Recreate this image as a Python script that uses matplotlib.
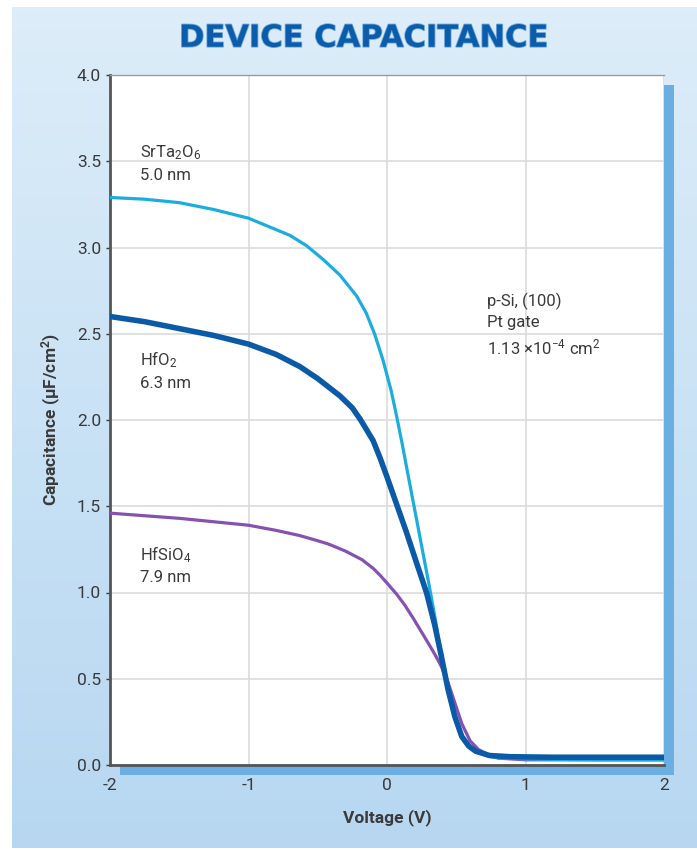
import numpy as np
import matplotlib
matplotlib.use('Agg')
import matplotlib.pyplot as plt
import matplotlib.patheffects as pe
from matplotlib.patches import Rectangle

plt.rcParams['font.family'] = ['Roboto', 'DejaVu Sans']
plt.rcParams['mathtext.default'] = 'regular'
plt.rcParams['axes.unicode_minus'] = False

# SrTa2O6, 5.0 nm
v_srta = [-2.0, -1.75, -1.5, -1.25, -1.0, -0.82, -0.7, -0.58, -0.46, -0.34, -0.22,
          -0.15, -0.09, -0.03, 0.03, 0.07, 0.11, 0.15, 0.20, 0.25, 0.30, 0.35, 0.39,
          0.44, 0.49, 0.54, 0.59, 0.64, 0.74, 0.83, 1.0, 1.5, 2.0]
c_srta = [3.29, 3.28, 3.26, 3.22, 3.17, 3.11, 3.07, 3.01, 2.93, 2.84, 2.72,
          2.62, 2.50, 2.35, 2.17, 2.02, 1.86, 1.69, 1.48, 1.27, 1.06, 0.84, 0.64,
          0.43, 0.27, 0.16, 0.11, 0.08, 0.05, 0.04, 0.035, 0.03, 0.03]

# HfO2, 6.3 nm
v_hfo2 = [-2.0, -1.75, -1.5, -1.25, -1.0, -0.8, -0.63, -0.5, -0.34, -0.25, -0.19, -0.10,
          -0.05, 0.0, 0.07, 0.14, 0.21, 0.285, 0.345, 0.39, 0.44, 0.49, 0.54, 0.59,
          0.64, 0.74, 0.89, 1.2, 2.0]
c_hfo2 = [2.60, 2.57, 2.53, 2.49, 2.44, 2.38, 2.31, 2.24, 2.14, 2.07, 2.00, 1.88,
          1.78, 1.67, 1.51, 1.35, 1.18, 1.00, 0.81, 0.64, 0.44, 0.28, 0.165, 0.11,
          0.08, 0.055, 0.048, 0.045, 0.045]

# HfSiO4, 7.9 nm
v_hfsio = [-2.0, -1.5, -1.0, -0.8, -0.63, -0.5, -0.42, -0.3, -0.18, -0.10, -0.05, 0.0,
           0.07, 0.13, 0.19, 0.25, 0.31, 0.35, 0.39, 0.44, 0.49, 0.54, 0.60, 0.66,
           0.73, 0.80, 1.0, 2.0]
c_hfsio = [1.46, 1.43, 1.39, 1.36, 1.33, 1.30, 1.28, 1.24, 1.19, 1.14, 1.10, 1.055,
           0.99, 0.925, 0.85, 0.77, 0.69, 0.635, 0.575, 0.48, 0.36, 0.24, 0.14, 0.09,
           0.06, 0.04, 0.03, 0.03]

x_ticks = [-2, -1, 0, 1, 2]
y_ticks = [0.0, 0.5, 1.0, 1.5, 2.0, 2.5, 3.0, 3.5, 4.0]

text_col = '#3a3a3a'

fig = plt.figure(figsize=(6.97, 8.5), dpi=100)

# light blue backdrop
bg = fig.add_axes([0, 0, 1, 1], zorder=0)
grad = np.linspace(0, 1, 256).reshape(-1, 1)
cmap = matplotlib.colors.LinearSegmentedColormap.from_list('bg', ['#ddedf9', '#c9e2f5', '#b7d7f1'])
bg.imshow(grad, cmap=cmap, aspect='auto', extent=[12 / 697, 1, 2 / 850, 843 / 850],
          transform=bg.transAxes)
bg.set_xlim(0, 1)
bg.set_ylim(0, 1)
bg.axis('off')

# plot shadow
l, r, b, t = 110 / 697, 664 / 697, 85 / 850, 775 / 850
dx, dy = 10 / 697, 10 / 850
fig.patches.append(Rectangle((l + dx, b - dy), r - l, t - b, transform=fig.transFigure,
                             facecolor='#6aaee2', edgecolor='none', zorder=1))

ax = fig.add_axes([l, b, r - l, t - b], zorder=2)
ax.set_facecolor('white')

ax.plot(v_hfsio, c_hfsio, color='#8652b2', lw=2.3, solid_capstyle='round', zorder=3)
ax.plot(v_srta, c_srta, color='#1cacde', lw=2.3, solid_capstyle='round', zorder=4)
ax.plot(v_hfo2, c_hfo2, color='#0a5aa8', lw=4.0, solid_capstyle='round', zorder=5)

ax.set_xlim(-2, 2)
ax.set_ylim(0, 4)
ax.set_xticks(x_ticks)
ax.set_xticklabels([str(v) for v in x_ticks])
ax.set_yticks(y_ticks)
ax.set_yticklabels(['%.1f' % v for v in y_ticks])
ax.grid(True, color='#dcdcdc', lw=1.2)
ax.set_axisbelow(True)

for s in ['left', 'bottom']:
    ax.spines[s].set_color('#555555')
    ax.spines[s].set_linewidth(2)
ax.spines['top'].set_color('#9a9a9a')
ax.spines['top'].set_linewidth(1)
ax.spines['right'].set_visible(False)

ax.tick_params(axis='both', colors=text_col, labelsize=12.5, length=3, width=1)
ax.tick_params(axis='x', length=0, pad=9)

ax.set_xlabel('Voltage (V)', fontsize=12.5, fontweight='bold', color=text_col, labelpad=12)
ax.set_ylabel('Capacitance (μF/cm$^2$)', fontsize=12.5, fontweight='bold', color=text_col, labelpad=10)

lab = dict(fontsize=12, color=text_col, va='center', ha='left', linespacing=1.45)
ax.text(-1.78, 3.49, 'SrTa$_2$O$_6$\n5.0 nm', **lab)
ax.text(-1.78, 2.29, 'HfO$_2$\n6.3 nm', **lab)
ax.text(-1.78, 1.16, 'HfSiO$_4$\n7.9 nm', **lab)
ax.text(0.72, 2.55, 'p-Si, (100)\nPt gate\n1.13 ×10$^{-4}$ cm$^2$', **lab)

fig.text(0.521, 0.955, 'DEVICE CAPACITANCE', ha='center', va='center', fontsize=22,
         fontweight='bold', family='DejaVu Sans', color='#0b5cab',
         path_effects=[pe.withStroke(linewidth=1.2, foreground='#6fa9dc')])

fig.savefig('out.png', dpi=100)
